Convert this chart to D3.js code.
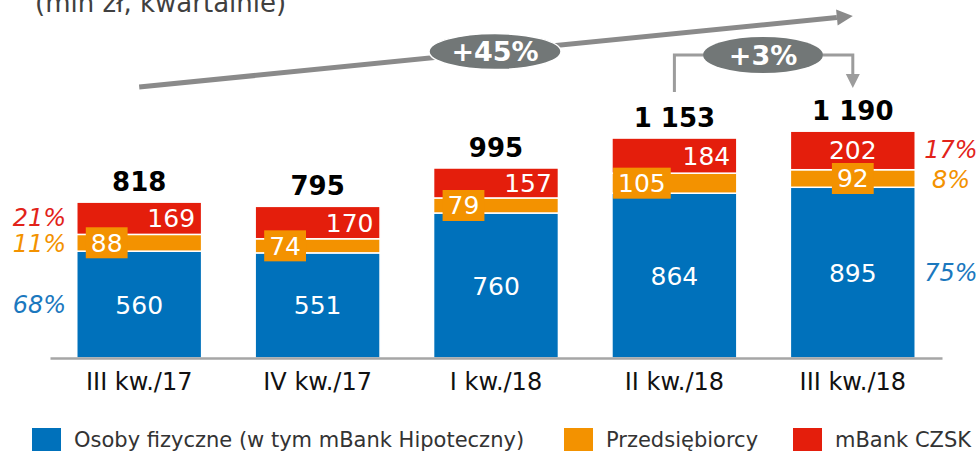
<!DOCTYPE html>
<html>
<head>
<meta charset="utf-8">
<script src="https://cdn.jsdelivr.net/npm/d3@7"></script>
<style>
  body { margin: 0; background: #fff; }
  svg { display: block; font-family: "DejaVu Sans", Verdana, sans-serif; }
</style>
</head>
<body>
<svg id="chart" width="980" height="452"></svg>
<script>
// dane (mln zł, kwartalnie)
var categories = ["III kw./17", "IV kw./17", "I kw./18", "II kw./18", "III kw./18"];
var osoby = [560, 551, 760, 864, 895];
var przedsiebiorcy = [88, 74, 79, 105, 92];
var czsk = [169, 170, 157, 184, 202];
var totals = [818, 795, 995, 1153, 1190];
var sharesFirst = [21, 11, 68];   // mBank CZSK, Przedsiębiorcy, Osoby fizyczne
var sharesLast = [17, 8, 75];
var growthTotal = "+45%";
var growthLast = "+3%";
var legendNames = ["Osoby fizyczne (w tym mBank Hipoteczny)", "Przedsiębiorcy", "mBank CZSK"];

var cBlue = "#0071BB", cOrange = "#F39200", cRed = "#E41E0C";
var tBlue = "#1B78BE", tOrange = "#F39200", tRed = "#E2231A";

var svg = d3.select("#chart");

var x = d3.scaleBand()
	.domain(categories)
	.range([50, 942])
	.paddingInner(0.3)
	.paddingOuter(0.15);

var y = d3.scaleLinear()
	.domain([0, 1190])
	.range([358, 131]);

var bw = x.bandwidth();

// kolumny
var rows = categories.map(function(c, i) {
	return {cat: c, i: i, o: osoby[i], p: przedsiebiorcy[i], r: czsk[i]};
});

var g = svg.append("g");
var segs = [
	{key: "o", base: function(d) { return 0; }, color: cBlue},
	{key: "p", base: function(d) { return d.o; }, color: cOrange},
	{key: "r", base: function(d) { return d.o + d.p; }, color: cRed}
];
segs.forEach(function(s) {
	g.selectAll(".seg-" + s.key)
		.data(rows)
		.enter()
		.append("rect")
			.attr("class", "seg-" + s.key)
			.attr("x", d => x(d.cat))
			.attr("width", bw)
			.attr("y", d => y(s.base(d) + d[s.key]))
			.attr("height", d => y(s.base(d)) - y(s.base(d) + d[s.key]))
			.attr("fill", s.color)
			.attr("stroke", "#fff")
			.attr("stroke-width", 1.5);
});

// os X
var axis = svg.append("g")
	.attr("transform", "translate(0," + y(0) + ")")
	.call(d3.axisBottom(x).tickSize(0).tickSizeOuter(0).tickPadding(15));
axis.select(".domain").attr("stroke", "#A6A6A6").attr("stroke-width", 2.5);
axis.selectAll("text")
	.style("font-family", "DejaVu Sans, sans-serif")
	.attr("font-size", "24px")
	.attr("dy", "0.71em")
	.attr("fill", "#111");

// etykiety w kolumnach
var lbl = svg.append("g").attr("fill", "#fff").attr("font-size", "25px").attr("text-anchor", "middle");
rows.forEach(function(d) {
	var cx = x(d.cat) + bw / 2;
	var shift = d.i < categories.length - 1 ? 32.5 : 0;
	// osoby fizyczne
	lbl.append("text")
		.attr("x", cx)
		.attr("y", (y(0) + y(d.o)) / 2)
		.attr("dy", "0.36em")
		.text(d.o);
	// przedsiebiorcy - etykieta w pomaranczowym polu
	var py = (y(d.o) + y(d.o + d.p)) / 2;
	var t = lbl.append("text")
		.attr("x", cx - shift)
		.attr("y", py)
		.attr("dy", "0.36em")
		.text(d.p);
	var tw = t.node().getComputedTextLength();
	lbl.insert("rect", function() { return t.node(); })
		.attr("x", cx - shift - tw / 2 - 5)
		.attr("y", py - 15.5)
		.attr("width", tw + 10)
		.attr("height", 31)
		.attr("fill", cOrange);
	// mBank CZSK
	lbl.append("text")
		.attr("x", cx + (shift ? 32 : 0))
		.attr("y", (y(d.o + d.p) + y(d.o + d.p + d.r)) / 2)
		.attr("dy", "0.36em")
		.text(d.r);
	// suma
	svg.append("text")
		.attr("x", cx)
		.attr("y", y(totals[d.i]) - 11)
		.attr("text-anchor", "middle")
		.attr("font-size", "26px")
		.attr("font-weight", "bold")
		.attr("fill", "#000")
		.text(d3.format(",")(totals[d.i]).replace(/,/g, " "));
});

// udzialy procentowe
var first = rows[0], last = rows[rows.length - 1];
var shareCol = [tRed, tOrange, tBlue];
function shareY(d, k) {
	if (k == 0) return (y(d.o + d.p) + y(d.o + d.p + d.r)) / 2 - 1;
	if (k == 1) return (y(d.o) + y(d.o + d.p)) / 2 + 1;
	return (y(0) + y(d.o)) / 2;
}
for (var k = 0; k < 3; k++) {
	svg.append("text")
		.attr("x", 66)
		.attr("y", shareY(first, k))
		.attr("dy", "0.36em")
		.attr("text-anchor", "end")
		.attr("font-size", "24px")
		.attr("font-style", "italic")
		.attr("fill", shareCol[k])
		.text(sharesFirst[k] + "%");
	svg.append("text")
		.attr("x", 951)
		.attr("y", shareY(last, k))
		.attr("dy", "0.36em")
		.attr("text-anchor", "middle")
		.attr("font-size", "24px")
		.attr("font-style", "italic")
		.attr("fill", shareCol[k])
		.text(sharesLast[k] + "%");
}

// tytul (uciety u gory, jak w oryginale)
svg.append("text")
	.attr("x", 35)
	.attr("y", 12)
	.attr("font-size", "26px")
	.attr("fill", "#404040")
	.text("(mln zł, kwartalnie)");

// strzalka +45%
var ax0 = x(categories[0]) + bw / 2, ay0 = 87;
var ax1 = x(categories[4]) + bw / 2, ay1 = 16;
var ang = Math.atan2(ay1 - ay0, ax1 - ax0);
var hl = 16, hw = 8;
var bx = ax1 - hl * Math.cos(ang), by = ay1 - hl * Math.sin(ang);
svg.append("line")
	.attr("x1", ax0).attr("y1", ay0)
	.attr("x2", bx).attr("y2", by)
	.attr("stroke", "#8A8A8A")
	.attr("stroke-width", 5);
svg.append("polygon")
	.attr("points", [
		[ax1, ay1],
		[bx + hw * Math.sin(ang), by - hw * Math.cos(ang)],
		[bx - hw * Math.sin(ang), by + hw * Math.cos(ang)]
	].map(p => p.join(",")).join(" "))
	.attr("fill", "#8A8A8A");
var ex = 495, ey = ay0 + (ex - ax0) * (ay1 - ay0) / (ax1 - ax0);
svg.append("ellipse")
	.attr("cx", ex).attr("cy", ey)
	.attr("rx", 66).attr("ry", 18)
	.attr("fill", "#727777")
	.attr("stroke", "#fff").attr("stroke-width", 1.5);
svg.append("text")
	.attr("x", ex).attr("y", ey)
	.attr("dy", "0.36em")
	.attr("text-anchor", "middle")
	.attr("font-size", "27px")
	.attr("font-weight", "bold")
	.attr("fill", "#fff")
	.text(growthTotal);

// klamra +3%
var lx = x(categories[3]) + bw / 2, rx = x(categories[4]) + bw / 2;
var ecx = 763, ecy = 55;
svg.append("path")
	.attr("d", "M" + lx + ",92V" + ecy + "H" + (ecx - 60))
	.attr("fill", "none").attr("stroke", "#9C9C9C").attr("stroke-width", 3);
svg.append("path")
	.attr("d", "M" + (ecx + 60) + "," + ecy + "H" + rx + "V76")
	.attr("fill", "none").attr("stroke", "#9C9C9C").attr("stroke-width", 3);
svg.append("polygon")
	.attr("points", (rx - 7) + ",74 " + (rx + 7) + ",74 " + rx + ",88")
	.attr("fill", "#9C9C9C");
svg.append("ellipse")
	.attr("cx", ecx).attr("cy", ecy)
	.attr("rx", 60).attr("ry", 18)
	.attr("fill", "#727777");
svg.append("text")
	.attr("x", ecx).attr("y", ecy)
	.attr("dy", "0.36em")
	.attr("text-anchor", "middle")
	.attr("font-size", "27px")
	.attr("font-weight", "bold")
	.attr("fill", "#fff")
	.text(growthLast);

// legenda
var legX = [32, 564, 793];
var legC = [cBlue, cOrange, cRed];
var leg = svg.append("g");
legendNames.forEach(function(n, i) {
	leg.append("rect")
		.attr("x", legX[i]).attr("y", 428)
		.attr("width", 29).attr("height", 23)
		.attr("fill", legC[i]);
	leg.append("text")
		.attr("x", legX[i] + 42).attr("y", 447)
		.attr("font-size", "21px")
		.attr("fill", "#333")
		.text(n);
});
</script>
</body>
</html>
